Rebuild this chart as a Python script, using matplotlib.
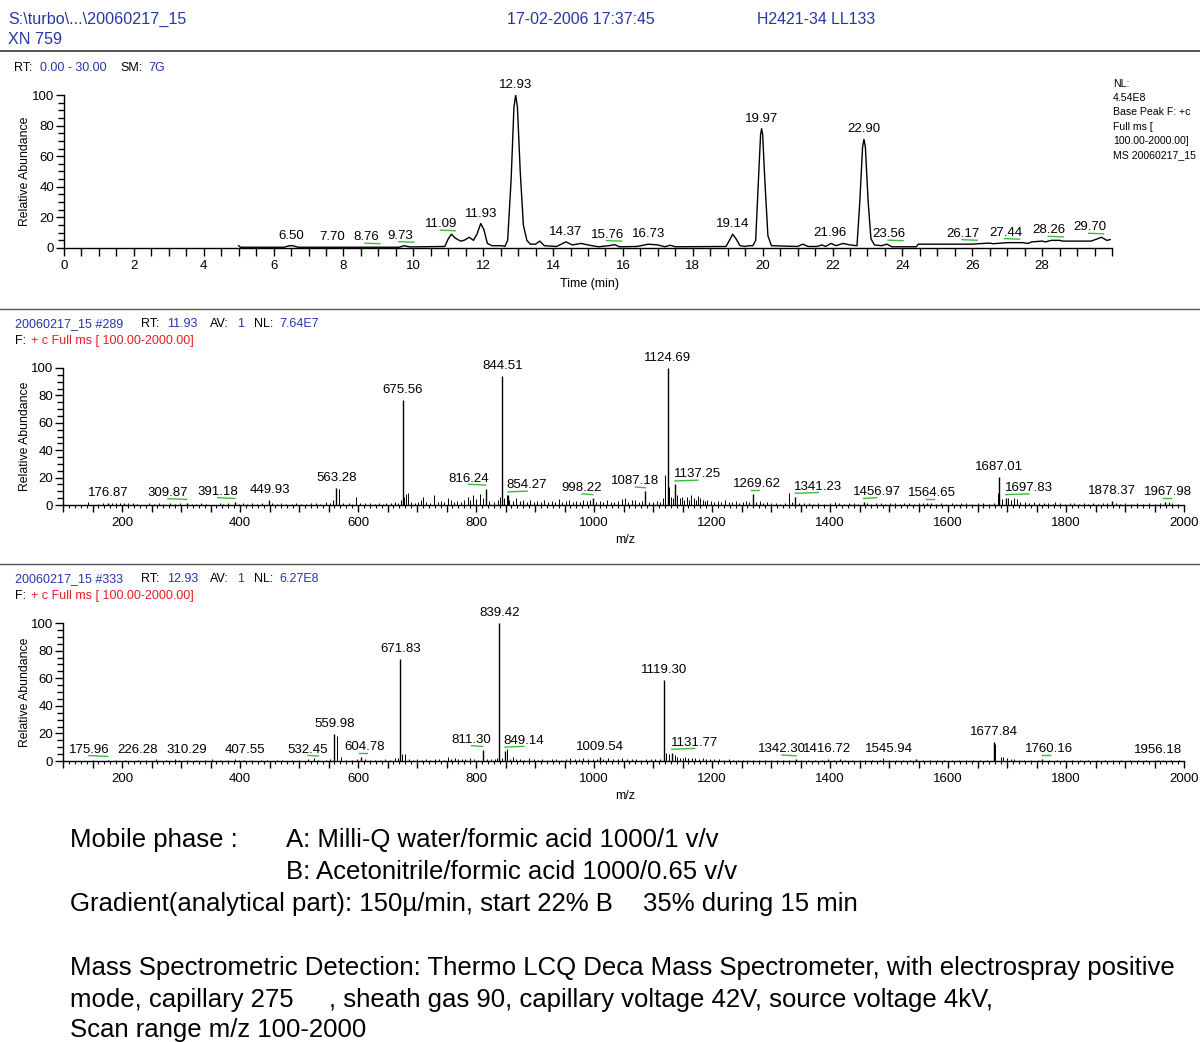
import numpy as np
import matplotlib.pyplot as plt
from matplotlib.lines import Line2D
from matplotlib.ticker import MultipleLocator, FixedLocator, FuncFormatter

plt.rcParams['font.family'] = ['Liberation Sans', 'DejaVu Sans']

BLUE = '#2636a8'
RED = '#e41e26'
GREEN = '#3dbb3d'
W, H = 1200, 1042

# ---- chromatogram (base peak trace), time in min / relative abundance %
rt_time = [5.00, 5.05, 6.30, 6.45, 6.55, 6.70, 9.60, 9.73, 9.90, 10.90, 11.00,
           11.09, 11.20, 11.35, 11.45, 11.60, 11.72, 11.82, 11.93, 12.02, 12.12,
           12.25, 12.55, 12.62, 12.70, 12.80, 12.88, 12.93, 12.98, 13.06, 13.15,
           13.25, 13.35, 13.50, 13.62, 13.75, 14.10, 14.37, 14.55, 14.80, 15.00,
           15.30, 15.60, 15.76, 15.90, 16.40, 16.73, 17.00, 17.20, 17.35, 17.50,
           18.95, 19.05, 19.14, 19.24, 19.35, 19.50, 19.60, 19.72, 19.80, 19.88,
           19.94, 19.97, 20.00, 20.06, 20.15, 20.25, 21.00, 21.15, 21.30, 21.55,
           21.70, 21.80, 21.96, 22.10, 22.30, 22.50, 22.70, 22.78, 22.86, 22.90,
           22.94, 23.02, 23.10, 23.20, 23.40, 23.56, 23.70, 24.40, 24.45, 26.00,
           26.17, 26.50, 26.60, 27.00, 27.44, 27.60, 27.70, 28.00, 28.10, 28.26,
           28.50, 28.60, 29.40, 29.70, 29.85, 29.95]
rt_abund = [1.5, 0.5, 0.5, 1.5, 1.5, 0.5, 0.5, 1.5, 0.7, 1.0, 6.0,
            9.0, 6.5, 4.5, 5.0, 7.0, 5.0, 9.0, 16.0, 12.0, 3.0,
            1.5, 1.5, 1.0, 5.0, 45.0, 92.0, 100.0, 92.0, 50.0, 15.0,
            5.0, 2.5, 2.5, 4.5, 1.5, 1.0, 4.0, 2.0, 3.0, 2.0,
            0.8, 1.5, 2.2, 0.8, 1.0, 2.5, 2.0, 0.8, 1.8, 0.8,
            1.0, 5.0, 9.0, 6.0, 1.5, 1.0, 1.5, 1.5, 5.0, 45.0,
            74.0, 78.0, 74.0, 45.0, 8.0, 1.5, 1.0, 2.5, 1.0, 1.0,
            2.0, 1.0, 3.0, 1.5, 3.0, 2.0, 1.5, 30.0, 66.0, 71.0,
            66.0, 30.0, 6.0, 2.0, 1.5, 2.5, 0.8, 0.8, 2.5, 2.5,
            2.8, 3.2, 2.8, 3.5, 3.5, 3.0, 4.0, 4.5, 4.0, 5.0,
            5.0, 4.5, 4.5, 7.0, 5.0, 5.5]
rt_labels = [6.50, 7.70, 8.76, 9.73, 11.09, 11.93, 12.93, 14.37, 15.76, 16.73,
             19.14, 19.97, 21.96, 22.90, 23.56, 26.17, 27.44, 28.26, 29.70]
rt_dx = [0, -1, -4, -4, -10, 0, 0, 0, -7, 0, 0, 0, -1, 0, 2, -15, -17, -2, -12]
rt_green = [8.76, 9.73, 11.09, 15.76, 23.56, 26.17, 27.44, 28.26, 29.70]

# ---- spectrum #289 (RT 11.93)
pk1_mz = [176.87, 309.87, 391.18, 449.93, 563.28, 675.56, 816.24, 844.51, 854.27,
          998.22, 1087.18, 1124.69, 1137.25, 1269.62, 1341.23, 1456.97, 1564.65,
          1687.01, 1697.83, 1878.37, 1967.98]
pk1_ab = [1.5, 1.5, 2.2, 3.6, 12.5, 77, 12, 94, 7, 5, 10, 100, 15, 8, 6, 2.2,
          1.5, 20.5, 5, 3, 2.2]
lab1_dx = [0, -19, -17, 0, 0, 0, -17, 0, 19, -11, -10, 0, 23, 4, 23, 13, 5, 0, 23, 0, 3]
green1 = [309.87, 391.18, 816.24, 854.27, 998.22, 1087.18, 1137.25, 1269.62,
          1341.23, 1456.97, 1564.65, 1697.83, 1967.98]
ns1_mz = [143, 160, 168, 183, 190, 197, 204, 211, 218, 226, 246, 255, 262, 270, 282,
          290, 298, 318, 326, 334, 342, 366, 372, 380, 398, 405, 412, 420, 428, 437,
          455, 462, 470, 478, 488, 495, 503, 512, 520, 528, 536, 545, 552, 558, 568,
          575, 584, 590, 596, 603, 612, 620, 628, 636, 642, 648, 656, 662, 668, 673,
          678, 681, 685, 690, 696, 702, 707, 710, 715, 722, 728, 735, 741, 746, 752,
          757, 762, 768, 774, 780, 786, 790, 795, 800, 806, 812, 822, 830, 837, 841,
          848, 852, 856, 862, 868, 874, 880, 886, 892, 898, 904, 910, 916, 922, 928,
          934, 940, 946, 952, 958, 964, 970, 976, 982, 988, 994, 1004, 1010, 1016,
          1022, 1028, 1034, 1040, 1048, 1052, 1058, 1064, 1070, 1076, 1082, 1093,
          1100, 1106, 1112, 1117, 1120, 1127, 1131, 1134, 1141, 1145, 1149, 1153,
          1157, 1161, 1165, 1169, 1173, 1176, 1180, 1184, 1188, 1192, 1198, 1204,
          1210, 1216, 1222, 1228, 1234, 1240, 1246, 1252, 1258, 1263, 1275, 1281,
          1287, 1293, 1300, 1308, 1316, 1324, 1330, 1335, 1348, 1356, 1364, 1372,
          1380, 1390, 1400, 1408, 1416, 1424, 1432, 1440, 1448, 1462, 1470, 1478,
          1486, 1494, 1502, 1510, 1518, 1526, 1534, 1542, 1550, 1558, 1572, 1580,
          1588, 1596, 1606, 1614, 1622, 1630, 1640, 1650, 1660, 1670, 1678, 1684,
          1692, 1702, 1707, 1712, 1717, 1722, 1730, 1738, 1746, 1754, 1762, 1770,
          1778, 1782, 1790, 1798, 1806, 1814, 1822, 1830, 1838, 1846, 1854, 1862,
          1870, 1885, 1892, 1900, 1910, 1920, 1930, 1940, 1950, 1960, 1974, 1980, 1990]
ns1_ab = [2, 1, 1.5, 1.5, 1.2, 1.5, 1.3, 1.8, 1.2, 1, 1.2, 1, 1.5, 1, 1.2,
          1, 1.5, 1, 0.8, 1.2, 0.8, 1.5, 1, 1.2, 1, 1.5, 0.8, 1.2, 1, 1.5,
          1.5, 1, 1.2, 0.8, 1, 1.2, 0.8, 1, 1.2, 1.5, 1, 2.5, 1.5, 4, 11.5,
          1.5, 1.2, 1, 6, 1.5, 1.2, 1.5, 1, 1.8, 1, 1.5, 1.2, 2.5, 1.5, 4,
          6, 8, 9, 2, 1.5, 2.5, 3.5, 6, 2, 1.5, 7, 2.5, 3, 2, 5,
          3.5, 2.5, 3, 2, 3.5, 6, 4, 7, 4.5, 8, 5, 3, 2, 4, 6,
          5, 7, 4, 3, 5, 3, 4, 2.5, 3.5, 2, 3, 2.5, 4, 2, 3,
          2.5, 4.5, 2, 3, 4, 2.5, 3, 2, 4, 3, 3.5, 2.5, 3, 2,
          3.5, 2.5, 2, 3, 4.5, 5, 2.5, 3.5, 4, 2, 3, 2.5,
          2, 3, 2, 5, 22, 13, 6, 5, 7, 5, 6, 4,
          6, 4, 7, 5, 4, 6.5, 5, 4, 3, 4, 3, 2,
          3, 2.5, 3.5, 2, 2.5, 3, 1.5, 2, 3, 2.5, 2, 3,
          1.5, 2, 1.2, 1.5, 1, 1.5, 8.5, 2, 1.5, 1.2, 1.5, 1,
          1.5, 1, 1.2, 2.5, 1.5, 1, 1.2, 1.5, 1, 1.5, 1, 1.5,
          1.2, 1, 1.5, 1.2, 1, 1.5, 1.2, 1, 1.5, 1.2, 1.5, 1,
          1.2, 1, 1.5, 1, 1.2, 1.5, 1, 1.2, 1.5, 1, 1.5, 9,
          4.5, 5, 4, 5, 4.5, 2, 2.5, 1.5, 2, 1.5, 1.2, 1.5,
          1, 2.5, 1.2, 1, 1.5, 1.2, 1, 1.5, 1, 1.2, 1, 1.5,
          1.2, 1.5, 1, 1.2, 1, 1.5, 1, 1.2, 1, 1.5, 2, 1.5, 1]

# ---- spectrum #333 (RT 12.93)
pk2_mz = [175.96, 226.28, 310.29, 407.55, 532.45, 559.98, 604.78, 671.83, 811.30,
          839.42, 849.14, 1009.54, 1119.30, 1131.77, 1342.30, 1416.72, 1545.94,
          1677.84, 1760.16, 1956.18]
pk2_ab = [0.8, 1, 1, 1, 1, 19.5, 3, 74, 8, 100, 7.5, 3, 58.5, 6, 1.2, 1.2, 1.2,
          13.5, 1.2, 1]
lab2_dx = [-19, 0, 0, 0, -10, 0, 4, 0, -11, 0, 19, 0, 0, 23, -14, -13, -27, 0, 7, 0]
green2 = [175.96, 532.45, 604.78, 811.30, 849.14, 1131.77, 1342.30, 1760.16]
ns2_mz = [150, 190, 205, 240, 258, 275, 290, 296, 325, 340, 352, 366, 380, 392, 398,
          420, 435, 446, 462, 472, 488, 500, 515, 526, 545, 553, 565, 572, 580, 590,
          598, 612, 620, 628, 638, 646, 655, 662, 668, 675, 679, 686, 694, 700, 708,
          716, 722, 730, 738, 745, 752, 758, 764, 770, 776, 782, 790, 796, 803, 818,
          825, 832, 836, 844, 852, 858, 862, 868, 875, 882, 890, 898, 905, 912, 920,
          928, 936, 944, 952, 960, 968, 975, 982, 990, 998, 1005, 1016, 1024, 1032,
          1040, 1048, 1056, 1064, 1072, 1080, 1088, 1096, 1104, 1112, 1122, 1127,
          1137, 1141, 1146, 1150, 1155, 1160, 1166, 1172, 1178, 1184, 1190, 1196,
          1204, 1212, 1220, 1228, 1236, 1244, 1252, 1260, 1270, 1280, 1290, 1300,
          1310, 1320, 1330, 1350, 1362, 1374, 1386, 1396, 1406, 1426, 1438, 1450,
          1460, 1472, 1484, 1490, 1500, 1512, 1524, 1536, 1558, 1570, 1582, 1594,
          1606, 1618, 1630, 1642, 1654, 1666, 1680, 1690, 1693, 1700, 1706, 1712,
          1720, 1728, 1740, 1752, 1772, 1784, 1796, 1810, 1824, 1838, 1852, 1866,
          1880, 1894, 1908, 1922, 1936, 1950, 1964, 1978, 1992]
ns2_ab = [0.5, 0.5, 0.8, 0.6, 1.2, 0.5, 1.5, 1, 0.5, 0.8, 1.3, 0.6, 0.8, 1.2, 1,
          0.6, 0.8, 0.6, 0.8, 1, 0.7, 0.8, 1.2, 2, 0.8, 1.2, 18, 3, 1, 0.8,
          1.5, 1.2, 0.8, 1, 0.8, 1.2, 1, 2, 2.5, 5, 5, 1.5, 1, 1.2, 1,
          1.5, 1, 1.2, 1.5, 1, 3, 1.5, 2, 1.5, 1.8, 1.2, 2, 1.5, 1, 1.5,
          1.2, 1.5, 2, 2.5, 8.5, 1.5, 3, 1.2, 1.5, 1, 2.5, 1.2, 1, 1.5, 1,
          1.2, 1.5, 1, 1.2, 2, 1.5, 1.2, 2, 1.5, 1.2, 1.5, 1.2, 2, 1.5,
          1.2, 2, 1.5, 1.2, 1.5, 1, 1.5, 1.2, 1.5, 1.2, 6, 5,
          4, 3, 2.5, 2, 3, 2, 2.5, 2, 1.5, 2, 1.5, 1.2,
          1.5, 1.2, 1, 1.2, 0.8, 1, 0.8, 1, 0.8, 1, 0.8, 1,
          0.7, 1, 0.8, 0.7, 0.8, 0.6, 1, 1.5, 0.8, 0.8, 1, 0.8,
          1, 0.7, 1, 2, 0.8, 1, 0.7, 0.8, 0.7, 0.8, 0.6, 0.8,
          0.7, 0.8, 0.6, 0.8, 0.6, 0.7, 12, 3, 3, 2, 1.5, 1.2,
          1, 0.8, 0.8, 1, 0.8, 0.6, 0.8, 0.6, 0.7, 0.5, 0.7, 0.6,
          0.7, 0.5, 0.6, 0.5, 0.6, 0.5, 0.6, 0.5, 0.6]

LAB_FS = 9.5


def fx(x):
    return x / W


def fy(y):
    return 1 - y / H


fig = plt.figure(figsize=(W / 100, H / 100), dpi=100)


def ftext(x, y, s, color='black', size=9, **kw):
    fig.text(fx(x), fy(y), s, color=color, fontsize=size, va='center', **kw)


def hline(y, color, lw):
    fig.add_artist(Line2D([0, 1], [fy(y), fy(y)], color=color, lw=lw,
                          transform=fig.transFigure))


def style_axes(ax):
    for s in ['top', 'right']:
        ax.spines[s].set_visible(False)
    for s in ['left', 'bottom']:
        ax.spines[s].set_linewidth(1.0)
    ax.set_ylim(0, 100)
    ax.yaxis.set_major_locator(MultipleLocator(20))
    ax.yaxis.set_minor_locator(MultipleLocator(5))
    ax.tick_params(axis='y', which='major', length=6, width=1, labelsize=9.5, pad=1)
    ax.tick_params(axis='y', which='minor', length=4, width=1)
    ax.patch.set_alpha(0)


def green_seg(ax, x, h, dx, xpp, ypp, lift):
    a, b = min(0, dx), max(0, dx)
    if b - a < 8:
        a, b = dx / 2 - 4, dx / 2 + 4
    y0 = h + lift * ypp
    ax.plot([x + a * xpp, x + b * xpp], [y0 + 0.8 * ypp * (a < 0), y0 + 0.8 * ypp * (b > 0)],
            color=GREEN, lw=1.0, clip_on=False)


# ---------------- header
ftext(8, 19, 'S:\\turbo\\...\\20060217_15', BLUE, 11.6)
ftext(8, 39, 'XN 759', BLUE, 11.6)
ftext(507, 19, '17-02-2006 17:37:45', BLUE, 11.4)
ftext(757, 19, 'H2421-34 LL133', BLUE, 11.4)
hline(51, '#333333', 1.2)
ftext(14, 68, 'RT:', 'black', 9)
ftext(40, 68, '0.00 - 30.00', BLUE, 9)
ftext(120, 68, 'SM:', 'black', 9)
ftext(148, 68, '7G', BLUE, 9)

nl_lines = ['NL:', '4.54E8', 'Base Peak F: +c', 'Full ms [', '100.00-2000.00]',
            'MS 20060217_15']
for i, s in enumerate(nl_lines):
    ftext(1113, 84 + i * 14.2, s, 'black', 7.6)

# ---------------- chromatogram
ax0 = fig.add_axes([fx(64), fy(248), (1112 - 64) / W, (248 - 95) / H])
style_axes(ax0)
ax0.plot(rt_time, rt_abund, color='black', lw=1.0)
ax0.set_xlim(0, 30)
ax0.xaxis.set_major_locator(FixedLocator(np.arange(0, 29, 2)))
ax0.xaxis.set_minor_locator(MultipleLocator(0.5))
ax0.tick_params(axis='x', which='both', length=6, width=1, labelsize=9.5, pad=3)
xpp0 = 30 / 1048
ypp0 = 100 / 153
for t, d in zip(rt_labels, rt_dx):
    h = np.interp(t, rt_time, rt_abund)
    ax0.annotate(f'{t:.2f}', (t, h), xytext=(d, 10), textcoords='offset pixels',
                 ha='center', va='center', fontsize=LAB_FS)
    if t in rt_green:
        ax0.plot([t + (d - 1) * xpp0, t + (d + 14) * xpp0],
                 [h + 4 * ypp0, h + 3.5 * ypp0], color=GREEN, lw=1.0)
ftext(589, 284, 'Time (min)', 'black', 9, ha='center')
ftext(25, 171, 'Relative Abundance', 'black', 8.8, ha='center', rotation=90)

hline(309, '#555555', 1.0)


# ---------------- spectra
def spectrum(ytop, ybot, pk_mz, pk_ab, ns_mz, ns_ab, dxs, greens, head, rt, nl):
    ax = fig.add_axes([fx(63), fy(ybot), (1184 - 63) / W, (ybot - ytop) / H])
    style_axes(ax)
    ax.set_xlim(100, 2000)
    ax.vlines(ns_mz, 0, ns_ab, color='black', lw=0.7)
    ax.vlines(pk_mz, 0, pk_ab, color='black', lw=1.0)
    ax.xaxis.set_major_locator(MultipleLocator(50))
    ax.xaxis.set_minor_locator(MultipleLocator(10))
    ax.xaxis.set_major_formatter(FuncFormatter(
        lambda v, p: f'{v:.0f}' if round(v) % 200 == 0 else ''))
    ax.tick_params(axis='x', which='major', length=5, width=1, labelsize=9.5, pad=4)
    ax.tick_params(axis='x', which='minor', length=2.5, width=0.8)
    xpp = 1900 / 1121
    ypp = 100 / (ybot - ytop)
    for m, h, d in zip(pk_mz, pk_ab, dxs):
        ax.annotate(f'{m:.2f}', (m, h), xytext=(d, 10), textcoords='offset pixels',
                    ha='center', va='center', fontsize=LAB_FS)
        if m in greens:
            green_seg(ax, m, h, d, xpp, ypp, 3.5)
    # header lines
    y1 = ytop - 44
    ftext(15, y1, head, BLUE, 9)
    ftext(141, y1, 'RT:', 'black', 9)
    ftext(167, y1, rt, BLUE, 9)
    ftext(210, y1, 'AV:', 'black', 9)
    ftext(237, y1, '1', BLUE, 9)
    ftext(254, y1, 'NL:', 'black', 9)
    ftext(279, y1, nl, BLUE, 9)
    ftext(15, y1 + 17, 'F:', 'black', 9)
    ftext(31, y1 + 17, '+ c Full ms [ 100.00-2000.00]', RED, 9)
    ftext(625, ybot + 35, 'm/z', 'black', 9, ha='center')
    ftext(25, (ytop + ybot) / 2, 'Relative Abundance', 'black', 8.8, ha='center',
          rotation=90)
    return ax


spectrum(368, 505, pk1_mz, pk1_ab, ns1_mz, ns1_ab, lab1_dx, green1,
         '20060217_15 #289', '11.93', '7.64E7')
hline(564, '#555555', 1.0)
spectrum(623, 761, pk2_mz, pk2_ab, ns2_mz, ns2_ab, lab2_dx, green2,
         '20060217_15 #333', '12.93', '6.27E8')

# ---------------- method notes
fs = 18.5
ftext(70, 840, 'Mobile phase :', 'black', fs)
ftext(286, 840, 'A: Milli-Q water/formic acid 1000/1 v/v', 'black', fs)
ftext(286, 872, 'B: Acetonitrile/formic acid 1000/0.65 v/v', 'black', fs)
ftext(70, 904, 'Gradient(analytical part): 150\u00b5/min, start 22% B', 'black', fs)
ftext(643, 904, '35% during 15 min', 'black', fs)
ftext(70, 968, 'Mass Spectrometric Detection: Thermo LCQ Deca Mass Spectrometer, '
      'with electrospray positive', 'black', fs)
ftext(70, 1000, 'mode, capillary 275', 'black', fs)
ftext(329, 1000, ', sheath gas 90, capillary voltage 42V, source voltage 4kV,', 'black', fs)
ftext(70, 1030, 'Scan range m/z 100-2000', 'black', fs)

fig.savefig('out.png', dpi=100)
